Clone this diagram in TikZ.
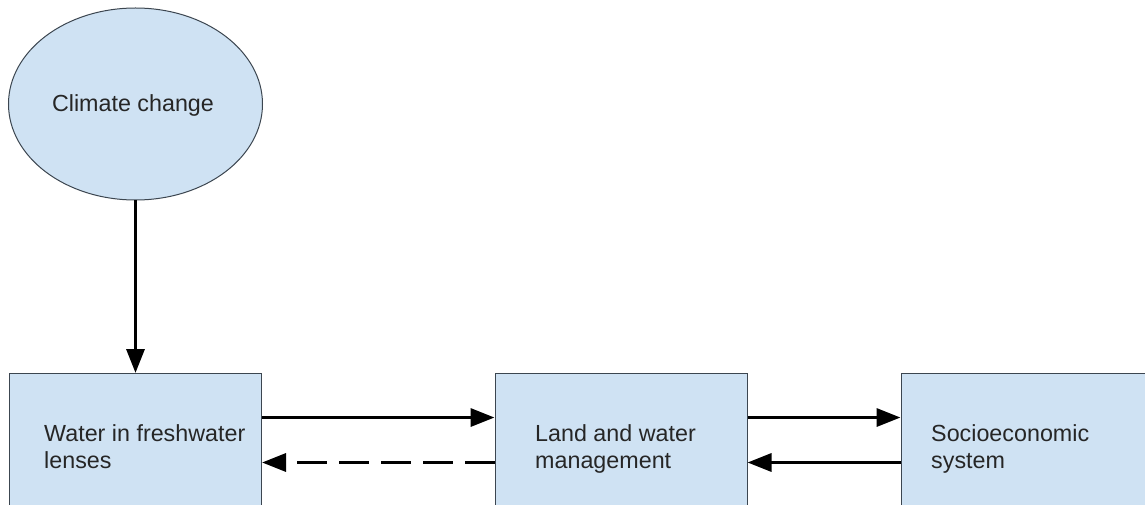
\documentclass[tikz,border=0pt]{standalone}
\usepackage{fontspec}
\setmainfont{Liberation Sans}
\usetikzlibrary{shapes.geometric,arrows.meta}
\definecolor{boxfill}{HTML}{CFE2F3}
\definecolor{boxline}{HTML}{3C4650}
\tikzset{
  shapebox/.style={draw=boxline, line width=1pt, fill=boxfill, rectangle, minimum width=252pt, minimum height=178pt, inner sep=0pt},
  cloud/.style={draw=boxline, line width=1pt, fill=boxfill, ellipse, minimum width=254pt, minimum height=192pt, inner sep=0pt},
  lbl/.style={font=\fontsize{23.3}{26.5}\selectfont, align=left, inner sep=0pt, anchor=north west, text=black!85},
  arr/.style={line width=3.4pt, -{Triangle[length=24pt, width=18pt]}},
  dasharr/.style={arr, dash pattern=on 30pt off 12pt}
}
\begin{document}
\begin{tikzpicture}[x=1pt,y=-1pt]
\useasboundingbox (0,0) rectangle (1145,505);
\clip (0,0) rectangle (1145,505);
\node[cloud] (cc) at (135.5,104) {};
\node[font=\fontsize{23.3}{26.5}\selectfont, text=black!85, inner sep=0pt, anchor=base] (cct) at (133,111.7) {Climate change};
\node[shapebox] (w) at (135.5,462.5) {};
\node[shapebox] (l) at (621,462.5) {};
\node[shapebox, minimum width=300pt] (s) at (1051,462.5) {};
\node[lbl] (wt) at (44,424.5) {Water in freshwater\\lenses};
\node[lbl] (lt) at (535,424.5) {Land and water\\management};
\node[lbl] (st) at (931,424.5) {Socioeconomic\\system};
\draw[arr] (cc.south) -- (w.north);
\draw[arr] ([yshift=45pt]w.east) -- ([yshift=45pt]l.west);
\draw[dasharr] (l.west) -- (w.east);
\draw[arr] ([yshift=45pt]l.east) -- ([yshift=45pt]s.west);
\draw[arr] (s.west) -- (l.east);
\end{tikzpicture}
\end{document}
